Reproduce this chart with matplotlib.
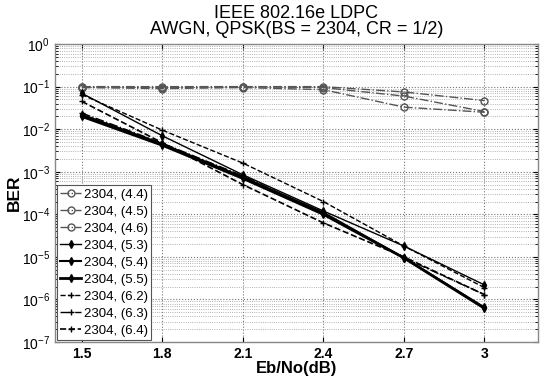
import matplotlib
matplotlib.use("Agg")
import matplotlib.pyplot as plt
from matplotlib.ticker import FixedLocator, NullFormatter

plt.rcParams['font.family'] = ['Liberation Sans', 'DejaVu Sans']
plt.rcParams['mathtext.fontset'] = 'custom'
plt.rcParams['mathtext.rm'] = 'Liberation Sans'
plt.rcParams['mathtext.it'] = 'Liberation Sans:italic'
plt.rcParams['mathtext.bf'] = 'Liberation Sans:bold'

ebno = [1.5, 1.8, 2.1, 2.4, 2.7, 3.0]
labels = ['2304, (4.4)', '2304, (4.5)', '2304, (4.6)',
          '2304, (5.3)', '2304, (5.4)', '2304, (5.5)',
          '2304, (6.2)', '2304, (6.3)', '2304, (6.4)']
ber_44 = [0.1, 0.1, 0.1, 0.1, 0.075, 0.047]
ber_45 = [0.1, 0.095, 0.1, 0.095, 0.06, 0.026]
ber_46 = [0.095, 0.09, 0.095, 0.085, 0.033, 0.025]
ber_53 = [0.07, 0.007, 8.5e-4, 1.2e-4, 1.8e-5, 2.2e-6]
ber_54 = [0.022, 0.0045, 7.5e-4, 1.1e-4, 9.5e-6, 6.5e-7]
ber_55 = [0.02, 0.0042, 7.0e-4, 1.0e-4, 9.5e-6, 6.2e-7]
ber_62 = [0.065, 0.0095, 1.6e-3, 2.0e-4, 1.8e-5, 1.9e-6]
ber_63 = [0.024, 0.0047, 8.0e-4, 1.05e-4, 9.5e-6, 1.3e-6]
ber_64 = [0.045, 0.0048, 5.0e-4, 6.3e-5, 1.0e-5, 1.3e-6]
series = [ber_44, ber_45, ber_46, ber_53, ber_54, ber_55, ber_62, ber_63, ber_64]
y_exponents = [0, -1, -2, -3, -4, -5, -6, -7]

styles = [
    dict(color='#555555', ls='-.', lw=1.0, marker='o', ms=5, mfc='none', mew=1.0),
    dict(color='#555555', ls='-.', lw=1.0, marker='o', ms=5, mfc='none', mew=1.0),
    dict(color='#555555', ls='-.', lw=1.0, marker='o', ms=5, mfc='none', mew=1.0),
    dict(color='black', ls='-', lw=1.0, marker='d', ms=4, mfc='black'),
    dict(color='black', ls='-', lw=1.5, marker='d', ms=4, mfc='black'),
    dict(color='black', ls='-', lw=2.0, marker='d', ms=4, mfc='black'),
    dict(color='black', ls='--', lw=1.0, marker='+', ms=5, mew=1.0),
    dict(color='black', ls='-.', lw=1.0, marker='+', ms=5, mew=1.0),
    dict(color='black', ls='--', lw=1.2, marker='+', ms=5, mew=1.0),
]

fig = plt.figure(figsize=(5.44, 3.80), dpi=100)
ax = fig.add_axes([0.101, 0.1, 0.888, 0.784])

for y, lab, st in zip(series, labels, styles):
    ax.semilogy(ebno, y, label=lab, **st)

ax.set_xlim(1.4, 3.2)
ax.set_ylim(1e-7, 1)
ax.set_xticks(ebno)
ax.set_xticklabels(['1.5', '1.8', '2.1', '2.4', '2.7', '3'])
major = [10.0 ** e for e in y_exponents]
minor = [m * 10.0 ** e for e in y_exponents[1:] for m in range(2, 10)]
ax.yaxis.set_major_locator(FixedLocator(major))
ax.yaxis.set_minor_locator(FixedLocator(minor))
ax.set_yticklabels([r'$10^{%d}$' % e for e in y_exponents])
ax.yaxis.set_minor_formatter(NullFormatter())

ax.grid(True, which='major', ls=':', color='#777777', lw=0.8)
ax.grid(True, which='minor', axis='y', ls=':', color='#999999', lw=0.6)
ax.tick_params(which='both', direction='in', top=True, right=True, labelsize=10)
ax.tick_params(which='minor', length=2, labelleft=False, labelbottom=False)
for lbl in ax.get_xticklabels() + ax.get_yticklabels():
    lbl.set_fontweight('bold')
for sp in ax.spines.values():
    sp.set_color('#888888')
    sp.set_linewidth(1.0)

ax.set_xlabel('Eb/No(dB)', fontsize=12, fontweight='bold', labelpad=0)
ax.set_ylabel('BER', fontsize=12.5, fontweight='bold', labelpad=0)
ax.set_title('IEEE 802.16e LDPC\nAWGN, QPSK(BS = 2304, CR = 1/2)', fontsize=13, pad=7,
             linespacing=0.95)

leg = ax.legend(loc='lower left', bbox_to_anchor=(0.0, 0.0), fontsize=9.5,
                handlelength=1.6, handletextpad=0.2, labelspacing=0.36,
                borderpad=0.25, borderaxespad=0.15, fancybox=False,
                framealpha=1.0)
leg.get_frame().set_edgecolor('#555555')
leg.get_frame().set_linewidth(0.8)

fig.savefig('out.png', dpi=100)
